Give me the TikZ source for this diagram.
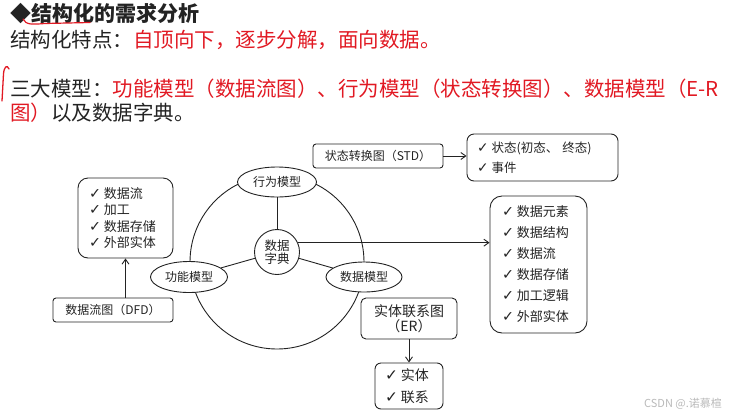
\documentclass[tikz,border=0pt]{standalone}
\usepackage{fontspec}
\setmainfont{Noto Sans CJK SC}
\newfontfamily\dv{DejaVu Sans}
\usetikzlibrary{arrows.meta,shapes.geometric}
\definecolor{hred}{RGB}{225,25,35}
\definecolor{ink}{RGB}{35,35,35}
\newcommand{\ck}{{\dv\bfseries\scalebox{1.1}{✓}}\hspace{3pt}}
\begin{document}
\begin{tikzpicture}[x=1pt,y=-1pt,
  ln/.style={draw=ink,line width=0.9pt},
  arr/.style={ln,-{Straight Barb[length=5pt,width=7pt]}},
  hdr/.style={anchor=base west,inner sep=0pt,text=ink,font=\fontsize{20.5}{20.5}\selectfont},
  lbox/.style={draw=ink,line width=0.9pt,inner ysep=0pt,align=center,text=ink,font=\fontsize{12}{12}\selectfont},
  listbox/.style={draw=ink,line width=0.9pt,inner ysep=0pt,align=left,text=ink},
  ell/.style={ellipse,draw=ink,line width=0.9pt,fill=white,inner sep=0pt,text=ink,font=\fontsize{12}{12}\selectfont}
]
\useasboundingbox (0,0) rectangle (735,418);

% headings
\node[hdr,font=\fontsize{21}{21}\selectfont\bfseries] (title) at (10,21) {◆结构化的需求分析};
\draw[hred,line width=1.2pt,line cap=round] (23,19) .. controls (26,25) and (32,24.5) .. (45,23.5) -- (90,22.5);
\node[hdr] (l2) at (10,47.5) {结构化特点：\textcolor{hred}{自顶向下，逐步分解，面向数据。}};
\node[hdr] (l3) at (10,96.5) {三大模型：\textcolor{hred}{功能模型（数据流图）、行为模型（状态转换图）、数据模型（E-R}};
\node[hdr] (l4) at (10,120.5) {\textcolor{hred}{图）}以及数据字典。};
\draw[hred,line width=1.3pt,line cap=round] (2,101) -- (3.5,74) .. controls (4,67) and (7,64) .. (9,69);

% big circle
\draw[ln] (277,262) circle[radius=87];

% ellipses and data dictionary
\node[ell,minimum width=79pt,minimum height=30pt] (xw) at (277,182) {行为模型};
\node[ell,minimum width=77pt,minimum height=31pt] (gn) at (189,277) {功能模型};
\node[ell,minimum width=76pt,minimum height=30pt] (sj) at (364,277) {数据模型};
\node[circle,draw=ink,line width=0.9pt,fill=white,minimum size=45pt,inner sep=0pt,align=center,text=ink,font=\fontsize{12.5}{12.5}\selectfont] (dd) at (277,252) {数据\\字典};

\draw[ln] (xw) -- (dd);
\draw[ln] (dd) -- (gn);
\draw[ln] (dd) -- (sj);

% boxes
\node[lbox,rounded corners=3pt,minimum width=120pt,minimum height=24pt] (dfd) at (113,310) {数据流图（DFD）};
\node[listbox,rounded corners=10pt,minimum height=80pt,inner xsep=11pt,text width=73pt,font=\fontsize{13}{16.3}\selectfont] (dfdlist) at (125.5,218) {\ck 数据流\\\ck 加工\\\ck 数据存储\\\ck 外部实体};

\node[lbox,rounded corners=3pt,minimum width=130pt,minimum height=24pt] (std) at (378,156) {状态转换图（STD）};
\node[listbox,rounded corners=7pt,minimum height=47pt,inner xsep=10pt,text width=131pt,font=\fontsize{12.5}{20}\selectfont] (stdlist) at (542.5,157.5) {\ck 状态(初态、 终态)\\\ck 事件};

\node[listbox,rounded corners=12pt,minimum height=137pt,inner xsep=12pt,text width=73pt,font=\fontsize{13}{21}\selectfont] (datalist) at (538.5,264.5) {\ck 数据元素\\\ck 数据结构\\\ck 数据流\\\ck 数据存储\\\ck 加工逻辑\\\ck 外部实体};

\node[lbox,rounded corners=5pt,minimum width=96pt,minimum height=41pt,font=\fontsize{14}{15.5}\selectfont] (er) at (409,318.5) {实体联系图\\（ER）};
\node[listbox,rounded corners=6pt,minimum height=46pt,inner xsep=10pt,text width=48pt,font=\fontsize{14}{22}\selectfont] (erlist) at (409,386) {\ck 实体\\\ck 联系};

% connectors
\draw[arr] (dfd.north -| dfdlist.south) -- (dfdlist.south);
\draw[arr] (std.east) -- (std.east -| stdlist.west);
\draw[arr] (dd.24) -- (dd.24 -| datalist.west);
\draw[arr] (er.south) -- (erlist.north);

% watermark
\node[inner sep=0pt,text=gray!55,font=\fontsize{11}{11}\selectfont] (wm) at (683,404) {CSDN @.诺慕楦};
\end{tikzpicture}
\end{document}
